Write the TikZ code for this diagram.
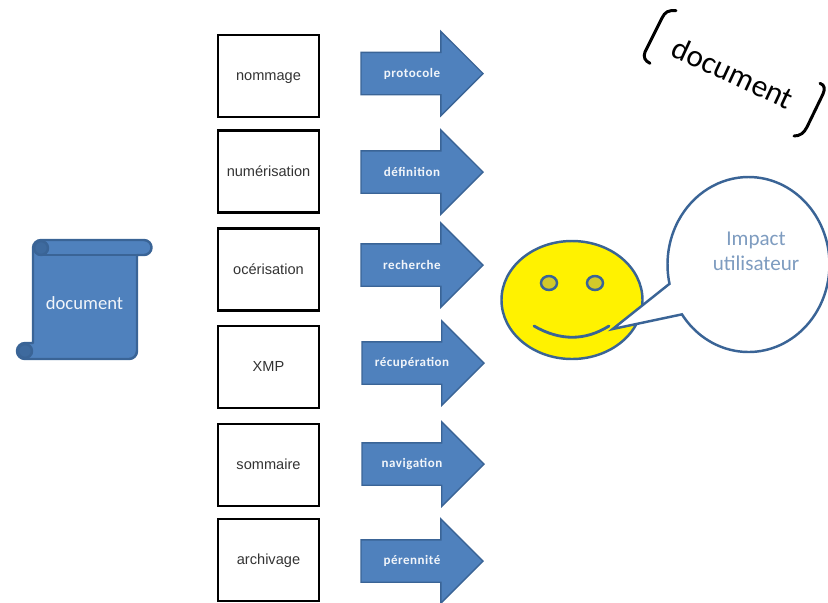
\documentclass[tikz,border=0pt]{standalone}
\usepackage{fontspec}
\setmainfont{Liberation Sans}
\newfontfamily\calib{Carlito}
\newfontfamily\calibe[LetterSpace=4]{Carlito}
\usetikzlibrary{shapes.geometric,shapes.arrows,shapes.callouts}
\definecolor{bleu}{HTML}{4F81BD}
\definecolor{bleufonce}{HTML}{3A6496}
\definecolor{bleutexte}{HTML}{7E9CC0}
\tikzset{
  boite/.style={draw,line width=0.75pt,minimum width=1.01cm,minimum height=0.82cm,inner sep=0pt,text height=3.4pt,text depth=0.6pt,
    font=\fontsize{4.15}{5}\selectfont,text=black!80},
  fleche/.style={single arrow,draw=bleufonce,fill=bleu,line width=0.4pt,inner xsep=0pt,inner ysep=0.205cm,outer sep=0pt,
    minimum height=1.22cm,single arrow head extend=0.21cm,single arrow tip angle=90,anchor=tail},
  etiquette/.style={text=white!92!bleu,inner sep=0pt,font=\calibe\bfseries\fontsize{3.7}{5}\selectfont},
  rouleau/.style={draw=bleufonce,fill=bleu,line width=0.7pt,line join=round},
  visage/.style={ellipse,draw=bleufonce,line width=0.7pt,inner sep=0pt,outer sep=0pt},
  crochet/.style={line width=0.85pt,line cap=round}
}
\begin{document}
\begin{tikzpicture}
    \useasboundingbox (0,0) rectangle (8.28,6.02);

    % rouleau
    \draw [rouleau] (0.41,3.62) -- (1.44,3.62) arc (90:-90:0.075) -- (1.37,3.47) -- (1.37,2.51)
      arc (0:-90:0.08) -- (0.25,2.43) arc (270:90:0.08) -- (0.33,2.59) -- (0.33,3.54) arc (180:90:0.08);
    \draw [rouleau] (0.41,3.47) -- (1.37,3.47);
    \draw [rouleau,fill=bleufonce!80!bleu] (0.41,3.54) circle (0.07);
    \draw [rouleau,fill=bleufonce!80!bleu] (0.25,2.51) circle (0.07);
    \node [text=white!92!bleu,font=\calib\fontsize{5.3}{6}\selectfont] (doc) at (0.845,2.99) {document};

    % boites et fleches
    \foreach \i/\y/\yf/\xf/\boite/\texte in {1/5.26/5.285/3.61/nommage/protocole,
      2/4.305/4.30/3.61/numérisation/définition,
      3/3.325/3.37/3.61/océrisation/recherche,
      4/2.35/2.39/3.62/XMP/récupération,
      5/1.37/1.38/3.62/sommaire/navigation,
      6/0.42/0.41/3.61/archivage/pérennité}
    {
      \node [boite] (b\i) at (2.685,\y) {\boite};
      \node [fleche] (f\i) at (\xf,\yf) {};
      \node [etiquette] (e\i) at (4.12,\yf) {\texte};
    }

    % visage
    \node [visage,fill=yellow,minimum width=1.41cm,minimum height=1.18cm] (tete) at (5.72,3.02) {};
    \node [visage,fill=yellow!80!black,minimum width=0.16cm,minimum height=0.14cm] (oeilg) at (5.49,3.19) {};
    \node [visage,fill=yellow!80!black,minimum width=0.16cm,minimum height=0.14cm] (oeild) at (5.95,3.19) {};
    \draw [draw=bleufonce,line width=0.8pt,line cap=round] (5.34,2.76) .. controls (5.60,2.61) and (5.85,2.61) .. (6.09,2.76);

    % bulle
    \node [ellipse callout,draw=bleufonce,fill=white,line width=0.7pt,inner sep=0pt,outer sep=0pt,
      minimum width=1.62cm,minimum height=1.75cm,callout absolute pointer={(6.127,2.73)},callout pointer arc=22] (bulle) at (7.485,3.375) {};
    \node [text=bleutexte,align=center,inner sep=0pt,font=\calib\fontsize{6}{7.1}\selectfont] (impact) at (7.56,3.51) {Impact\\utilisateur};

    % document incline
    \node [rotate=-25,inner sep=0pt,font=\calib\fontsize{8.9}{10}\selectfont] (titre) at (7.33,5.29) {document};
    \draw [crochet] (6.76,5.913) .. controls (6.68,5.92) and (6.65,5.90) .. (6.62,5.84) -- (6.45,5.50) .. controls (6.43,5.45) and (6.45,5.41) .. (6.50,5.387);
    \draw [crochet] (8.20,5.187) .. controls (8.25,5.17) and (8.25,5.13) .. (8.23,5.08) -- (8.07,4.75) .. controls (8.04,4.69) and (8.00,4.66) .. (7.94,4.66);
  \end{tikzpicture}
\end{document}
